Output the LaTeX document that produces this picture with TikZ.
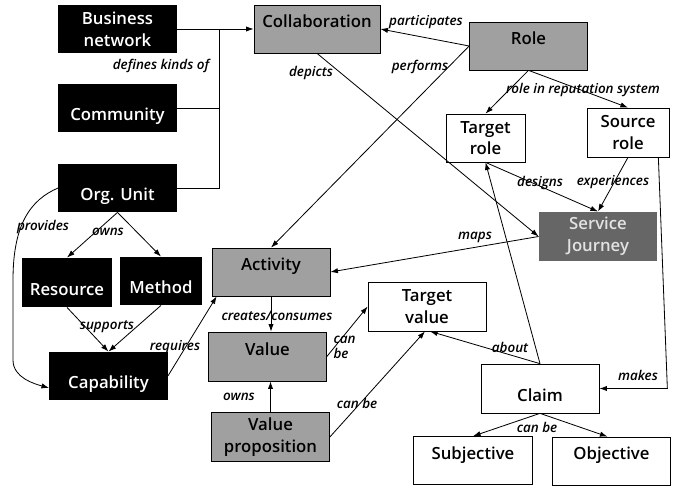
\documentclass[tikz,border=0pt]{standalone}
\usepackage{fontspec}
\setmainfont{Open Sans}[BoldFont={Open Sans Semibold},BoldItalicFont={Open Sans Semibold Italic}]
\usepackage{tikz}
\usetikzlibrary{calc,arrows.meta}
\definecolor{boxgray}{HTML}{A0A0A0}
\definecolor{sjgray}{HTML}{666666}
\definecolor{sjtext}{HTML}{E2E2E2}

\begin{document}
\begin{tikzpicture}[x=0.03cm,y=-0.03cm,line width=0.7pt,>={Latex[length=6.5pt,width=4.5pt]},
  box/.style={minimum width=3.54cm,minimum height=1.44cm,inner sep=0pt,align=center,
    font=\fontsize{14.3}{18.5}\selectfont\bfseries},
  blk/.style={box,fill=black,text=white},
  gry/.style={box,draw,line width=0.6pt,fill=boxgray},
  wht/.style={box,draw,line width=0.6pt,fill=white},
  hi/.style={text height=10.2pt,text depth=0.42cm},
  lo/.style={text height=22.1pt,text depth=0pt},
  lbl/.style={font=\fontsize{11.5}{13}\selectfont\bfseries\itshape,inner sep=1pt}]
\useasboundingbox (0,0) rectangle (678,487);

\node[blk] (bn) at (117.5,29) {Business\\network};
\node[blk,lo] (com) at (117.5,108) {Community};
\node[blk,lo] (org) at (117.5,188) {Org. Unit};
\node[gry,hi,minimum width=3.78cm] (collab) at (317,29) {Collaboration};
\node[gry,hi] (role) at (528.5,46) {Role};
\node[wht,minimum width=2.37cm] (tr) at (485.5,138) {Target\\role};
\node[wht,minimum width=2.46cm,minimum height=1.47cm] (sr) at (628,132.5) {Source\\role};
\node[box,fill=sjgray,text=sjtext,minimum height=1.47cm] (sj) at (598,236.5) {Service\\Journey};
\node[gry,hi] (act) at (271,272) {Activity};
\node[blk,lo,minimum width=2.7cm,minimum height=1.47cm] (res) at (67,282.5) {Resource};
\node[blk,lo,minimum width=2.46cm] (meth) at (161,281) {Method};
\node[blk,lo] (cap) at (108.5,376) {Capability};
\node[gry,hi,minimum height=1.47cm] (val) at (267.5,356.5) {Value};
\node[gry,minimum height=1.47cm] (vp) at (270.5,437) {Value\\proposition};
\node[wht,minimum height=1.47cm] (tv) at (427,306.5) {Target\\value};
\node[wht,lo,minimum height=1.47cm] (claim) at (540,388.5) {Claim};
\node[wht,hi,minimum width=3.57cm] (subj) at (473,460.5) {Subjective};
\node[wht,hi] (obj) at (611.5,461) {Objective};

\coordinate (bus) at ($(bn.east)!0.55!(collab.west)$);
\coordinate (mk) at (claim.east -| sr.east);
\draw[->] (bn.east) -- (collab.west);
\draw (com.east) -- (com.east -| bus);
\draw (org.east) -| (bus);
\draw[->] (role.west) -- (collab.east);
\draw[->] (role.west) -- (act.north);
\draw[->] (collab.south) -- (sj.west);
\draw[->] (role.south) -- (tr.north);
\draw[->] (role.south) -- (sr.north);
\draw[->] (tr.south) -- (sj.north);
\draw[->] (sr.south) -- (sj.north);
\draw[->] (sj.west) -- (act.east);
\draw[->] ($(sr.south east)+(-11,0)$) -- ($(mk)+(-2,0)$) -- (claim.east);
\draw[->] (claim.north) -- (tr.south);
\draw[->] (claim.north) -- ($(tv.south)+(3,0)$);
\draw[->] (claim.south) -- (subj.north);
\draw[->] (claim.south) -- ($(obj.north)+(-4,0)$);
\draw[->] (vp.north) -- (vp.north |- val.south);
\draw[->] (vp.east) -- ($(tv.south)+(-2,0)$);
\draw[->] (val.east) -- (tv.west);
\draw[->] (act.south) -- (act.south |- val.north);
\draw[->] (cap.east) -- ($(act.south west)+(5,0)$);
\draw[->] (org.south) -- (res.north);
\draw[->] (org.south) -- (meth.north);
\draw[->] (res.south) -- (cap.north);
\draw[->] (meth.south) -- (cap.north);
\draw[->] (org.west) .. controls (30,200) and (13,225) .. (13,280) -- (13,360)
  .. controls (13,378) and (35,384) .. ($(cap.west)+(0,12)$);

\node[lbl] (l-kinds) at (161,66) {defines kinds of};
\node[lbl] (l-part) at (426,22) {participates};
\node[lbl] (l-depicts) at (311,73) {depicts};
\node[lbl] (l-performs) at (420,67) {performs};
\node[lbl] (l-rep) at (583,90) {role in reputation system};
\node[lbl] (l-designs) at (540,183) {designs};
\node[lbl] (l-exp) at (613,182) {experiences};
\node[lbl] (l-maps) at (475,237) {maps};
\node[lbl] (l-owns) at (108,232) {owns};
\node[lbl] (l-provides) at (43,227) {provides};
\node[lbl] (l-supports) at (107,327) {supports};
\node[lbl] (l-requires) at (175,347) {requires};
\node[lbl] (l-creates) at (277,316) {creates/consumes};
\node[lbl,align=left,anchor=west] (l-canbe) at (332,347) {can\\be};
\node[lbl] (l-vpowns) at (239,397) {owns};
\node[lbl] (l-vpcanbe) at (357,403) {can be};
\node[lbl] (l-about) at (510,347) {about};
\node[lbl] (l-makes) at (638,375) {makes};
\node[lbl] (l-claimcanbe) at (537,427) {can be};
\end{tikzpicture}
\end{document}
